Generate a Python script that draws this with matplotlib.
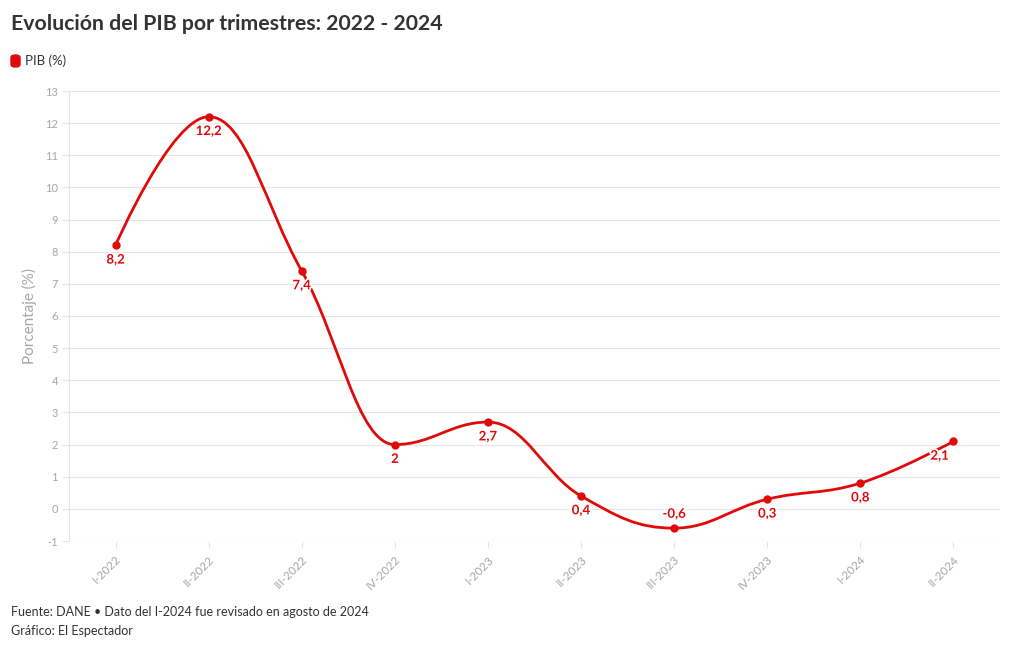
import numpy as np
import matplotlib
matplotlib.use('Agg')
import matplotlib.pyplot as plt
import matplotlib.patheffects as pe
from matplotlib.path import Path
from matplotlib.patches import PathPatch, FancyBboxPatch

# datos
trimestres = ['I-2022', 'II-2022', 'III-2022', 'IV-2022', 'I-2023',
              'II-2023', 'III-2023', 'IV-2023', 'I-2024', 'II-2024']
pib = [8.2, 12.2, 7.4, 2.0, 2.7, 0.4, -0.6, 0.3, 0.8, 2.1]
etiquetas = ['8,2', '12,2', '7,4', '2', '2,7', '0,4', '-0,6', '0,3', '0,8', '2,1']

rojo = '#e00a0a'
gris = '#a6a6a6'
oscuro = '#333333'

plt.rcParams['font.family'] = ['Lato', 'DejaVu Sans']
plt.rcParams['axes.unicode_minus'] = False


def spline_path(xs, ys, smoothing=1.5):
    # curva tipo "spline" de Highcharts
    denom = smoothing + 1
    n = len(xs)
    right = [(xs[0], ys[0])] * n
    left = [(xs[i], ys[i]) for i in range(n)]
    for i in range(1, n - 1):
        lx, ly = xs[i - 1], ys[i - 1]
        px, py = xs[i], ys[i]
        nx, ny = xs[i + 1], ys[i + 1]
        lcx = (smoothing * px + lx) / denom
        lcy = (smoothing * py + ly) / denom
        rcx = (smoothing * px + nx) / denom
        rcy = (smoothing * py + ny) / denom
        corr = 0
        if rcx != lcx:
            corr = (rcy - lcy) * (rcx - px) / (rcx - lcx) + py - rcy
        lcy += corr
        rcy += corr
        if lcy > ly and lcy > py:
            lcy = max(ly, py)
            rcy = 2 * py - lcy
        elif lcy < ly and lcy < py:
            lcy = min(ly, py)
            rcy = 2 * py - lcy
        if rcy > ny and rcy > py:
            rcy = max(ny, py)
            lcy = 2 * py - rcy
        elif rcy < ny and rcy < py:
            rcy = min(ny, py)
            lcy = 2 * py - rcy
        left[i] = (lcx, lcy)
        right[i] = (rcx, rcy)
    verts = [(xs[0], ys[0])]
    codes = [Path.MOVETO]
    for i in range(1, n):
        verts += [right[i - 1], left[i], (xs[i], ys[i])]
        codes += [Path.CURVE4] * 3
    return Path(verts, codes)


fig = plt.figure(figsize=(10.2, 6.5), dpi=100)
ax = fig.add_axes([69 / 1020, 1 - 541 / 650, 931 / 1020, 450 / 650])

x = np.arange(len(trimestres))
ax.add_patch(PathPatch(spline_path(list(x), pib), facecolor='none',
                       edgecolor=rojo, lw=2.0, zorder=3, capstyle='round'))
ax.plot(x, pib, 'o', color=rojo, ms=5, zorder=4)

halo = [pe.withStroke(linewidth=2.5, foreground='white')]
for i, (xi, yi) in enumerate(zip(x, pib)):
    if etiquetas[i] == '-0,6':
        dy, va = 6, 'bottom'
    else:
        dy, va = -6, 'top'
    dx = -10 if i == len(x) - 1 else 0
    ax.annotate(etiquetas[i], (xi, yi), xytext=(dx, dy), textcoords='offset points',
                ha='center', va=va, fontsize=9.5, fontweight='bold', color=rojo,
                path_effects=halo, zorder=5)

ax.set_xlim(-0.5, len(x) - 0.5)
ax.set_ylim(-1, 13)
ax.set_yticks(range(-1, 14))
ax.set_xticks(x)
ax.set_xticklabels(trimestres, rotation=45, ha='right', rotation_mode='anchor')
ax.grid(axis='y', color='#e6e6e6', lw=0.8)
ax.set_axisbelow(True)
for s in ['top', 'right', 'bottom']:
    ax.spines[s].set_visible(False)
ax.spines['left'].set_color('#e6e6e6')
ax.spines['left'].set_linewidth(0.8)
ax.tick_params(axis='y', length=5, color='#e6e6e6', labelsize=8, labelcolor=gris, pad=3)
ax.tick_params(axis='x', length=5, color='#e6e6e6', labelsize=8.5, labelcolor=gris, pad=4)
ax.set_ylabel('Porcentaje (%)', color=gris, fontsize=11, labelpad=6)

fig.text(11 / 1020, 1 - 24 / 650, 'Evolución del PIB por trimestres: 2022 - 2024',
         fontsize=15.3, fontweight='bold', color=oscuro, va='center')
fig.patches.append(FancyBboxPatch((11 / 1020, 1 - 67 / 650), 9 / 1020, 12 / 650,
                                  boxstyle='round,pad=0,rounding_size=0.004',
                                  transform=fig.transFigure, color=rojo))
fig.text(25 / 1020, 1 - 61 / 650, 'PIB (%)', fontsize=9.5, color=oscuro, va='center')
fig.text(11 / 1020, 1 - 612 / 650, 'Fuente: DANE • Dato del I-2024 fue revisado en agosto de 2024',
         fontsize=9, color=oscuro, va='center')
fig.text(11 / 1020, 1 - 631 / 650, 'Gráfico: El Espectador', fontsize=9, color=oscuro, va='center')

fig.savefig('out.png', dpi=100)
